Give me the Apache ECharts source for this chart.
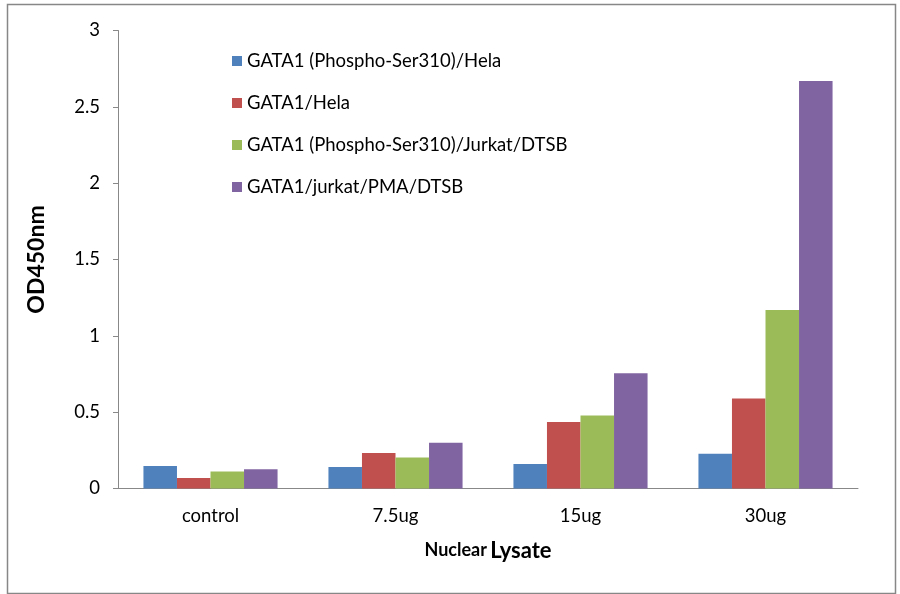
<!DOCTYPE html>
<html>
<head>
<meta charset="utf-8">
<script src="https://cdn.jsdelivr.net/npm/echarts@6/dist/echarts.min.js"></script>
<style>
html,body{margin:0;padding:0;background:#fff;}
#c{width:900px;height:594px;}
</style>
</head>
<body>
<div id="c"></div>
<script>
const categories = ['control', '7.5ug', '15ug', '30ug'];
const seriesNames = ['GATA1 (Phospho-Ser310)/Hela', 'GATA1/Hela', 'GATA1 (Phospho-Ser310)/Jurkat/DTSB', 'GATA1/jurkat/PMA/DTSB'];
const phosphoHela = [0.148, 0.141, 0.161, 0.227];
const gataHela = [0.069, 0.233, 0.436, 0.59];
const phosphoJurkat = [0.111, 0.203, 0.478, 1.17];
const gataJurkatPMA = [0.126, 0.299, 0.755, 2.67];
const yTicks = [0, 0.5, 1, 1.5, 2, 2.5, 3];
const colors = ['#4F81BD', '#C0504D', '#9BBB59', '#8064A2'];

const values = [phosphoHela, gataHela, phosphoJurkat, gataJurkatPMA];
const font = 'Lato, "Open Sans", sans-serif';
const chart = echarts.init(document.getElementById('c'));
chart.setOption({
  animation: false,
  color: colors,
  graphic: [{
    type: 'rect', left: 5, top: 2, shape: {x: 0, y: 0, width: 888, height: 589},
    style: {fill: 'none', stroke: '#878787', lineWidth: 1.5}, silent: true, z: -1
  }],
  grid: {left: 118, right: 42, top: 30.5, bottom: 105.5},
  legend: {
    orient: 'vertical', left: 227, top: 45, itemWidth: 10, itemHeight: 10, itemGap: 20,
    icon: 'rect', textStyle: {fontFamily: font, fontSize: 18.5, lineHeight: 22, color: '#000', padding: [0, 0, 0, 0]},
    data: seriesNames
  },
  xAxis: {
    type: 'category', data: categories,
    name: '{a|Nuclear} {b|Lysate}', nameLocation: 'middle', nameGap: 51,
    nameTextStyle: {rich: {
      a: {fontFamily: font, fontSize: 18, fontWeight: 'bold', color: '#000'},
      b: {fontFamily: font, fontSize: 22, fontWeight: 'bold', color: '#000'}
    }},
    axisLine: {lineStyle: {color: '#888', width: 1}},
    axisTick: {length: 5, lineStyle: {color: '#888'}},
    axisLabel: {fontFamily: font, fontSize: 18.5, color: '#000', margin: 18}
  },
  yAxis: {
    type: 'value', min: 0, max: 3, interval: 0.5,
    name: 'OD450nm', nameLocation: 'middle', nameGap: 70,
    nameTextStyle: {fontFamily: font, fontSize: 23, fontWeight: 'bold', color: '#000'},
    axisLine: {show: true, lineStyle: {color: '#888', width: 1}},
    axisTick: {show: true, length: 5, lineStyle: {color: '#888'}},
    splitLine: {show: false},
    axisLabel: {fontFamily: font, fontSize: 18.5, color: '#000', margin: 18,
      formatter: v => yTicks.includes(v) ? String(v) : ''}
  },
  series: values.map((v, i) => ({
    name: seriesNames[i], type: 'bar', data: v,
    barGap: '0%', barCategoryGap: '27.5%'
  }))
});
</script>
</body>
</html>
